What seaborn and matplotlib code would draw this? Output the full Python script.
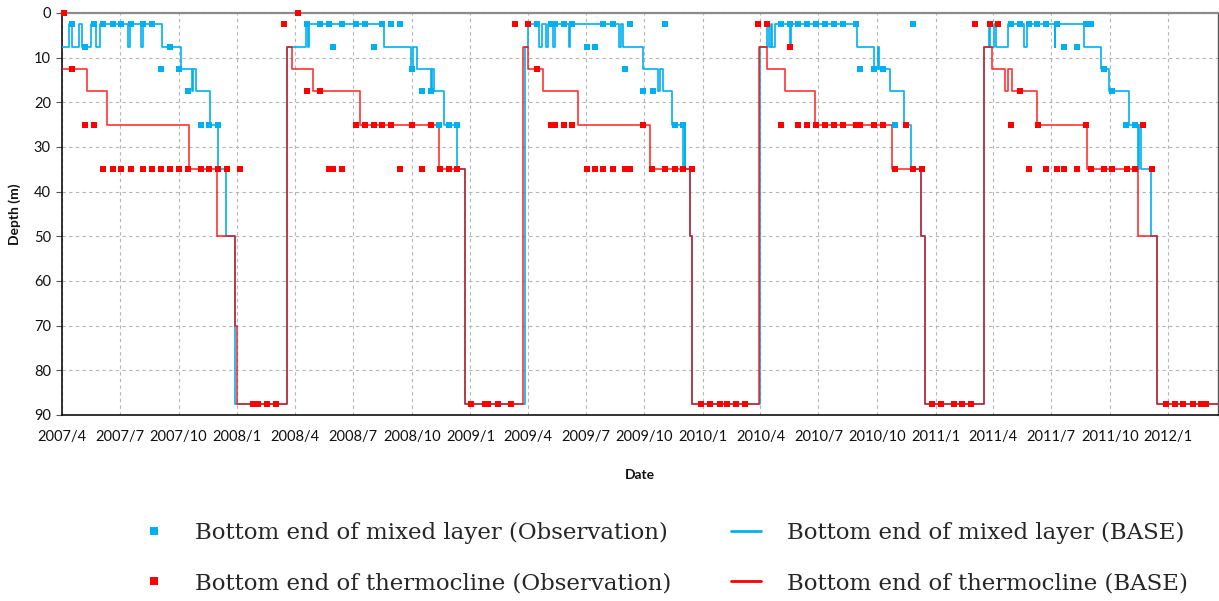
import numpy as np
import pandas as pd
import matplotlib
matplotlib.use("Agg")
import matplotlib.pyplot as plt
import matplotlib.dates as mdates
from matplotlib.ticker import FuncFormatter
from matplotlib.lines import Line2D
import seaborn as sns

START = pd.Timestamp("2007-04-01")
X_END_DAY = 1814

# ---- Observations: bottom end of thermocline (days since 2007-04-01, depth m)
thermo_obs_day = [3, 370,
                  349, 711, 731, 1092, 1106, 1433, 1456, 1469,
                  1143,
                  15, 746,
                  384, 405, 1503,
                  36, 50, 461, 476, 489, 502, 516, 550, 579, 768, 773, 787, 800, 912,
                  1128, 1155, 1169, 1183, 1197, 1211, 1226, 1246, 1250, 1253, 1274, 1288,
                  1324, 1489, 1531, 1607, 1696,
                  65, 80, 92, 108, 127, 141, 155, 170, 183, 197, 218, 231, 245, 259, 279,
                  419, 426, 439, 531, 565, 593, 607, 620, 824, 836, 849, 864, 884, 892,
                  926, 947, 962, 975, 989, 1307, 1336, 1350, 1517, 1544, 1561, 1573, 1593,
                  1615, 1635, 1648, 1671, 1684, 1711,
                  300, 307, 321, 336, 642, 663, 669, 684, 704, 1003, 1017, 1032, 1044, 1058,
                  1072, 1365, 1379, 1399, 1413, 1427, 1733, 1746, 1759, 1774, 1788, 1791, 1795]
thermo_obs_depth = ([0.0] * 2 + [2.5] * 8 + [7.5] * 1 + [12.5] * 2 + [17.5] * 3
                    + [25.0] * 31 + [35.0] * 48 + [87.5] * 27)

# ---- Observations: bottom end of mixed layer
mixed_obs_day = [15, 50, 65, 80, 92, 108, 127, 141, 385, 405, 419, 439, 461, 476, 502, 516,
                 531, 746, 768, 774, 787, 800, 849, 864, 892, 947, 1128, 1143, 1155, 1169,
                 1183, 1197, 1211, 1226, 1246, 1336, 1489, 1503, 1517, 1530, 1544, 1561,
                 1607, 1615,
                 36, 170, 426, 489, 824, 836, 1573, 1593,
                 155, 183, 550, 884, 1253, 1274, 1288, 1635,
                 197, 565, 579, 912, 927, 1648,
                 218, 231, 245, 592, 607, 620, 962, 975, 1307, 1670, 1684,
                 259]
mixed_obs_depth = ([2.5] * 44 + [7.5] * 8 + [12.5] * 8 + [17.5] * 6 + [25.0] * 11 + [35.0] * 1)

# ---- BASE simulation: bottom end of mixed layer (step changes)
mixed_base_day = [0, 11, 15, 27, 31, 46, 54, 59, 103, 106, 124, 127, 157, 187, 204, 206, 211,
                  232, 245, 258, 272, 353, 383, 386, 388, 506, 548, 551, 557, 579, 581, 584,
                  600, 620, 633, 726, 732, 749, 754, 760, 762, 771, 773, 796, 797, 874, 877,
                  880, 912, 936, 939, 943, 957, 974, 977, 978, 985, 988, 1096, 1107, 1109,
                  1112, 1114, 1119, 1143, 1144, 1248, 1274, 1280, 1282, 1299, 1322, 1333,
                  1348, 1354, 1447, 1454, 1456, 1463, 1465, 1484, 1509, 1514, 1558, 1559,
                  1603, 1631, 1643, 1675, 1688, 1690, 1693, 1709, 1718, 1814]
mixed_base_depth = [7.5, 2.5, 7.5, 2.5, 7.5, 2.5, 7.5, 2.5, 7.5, 2.5, 7.5, 2.5, 7.5, 12.5,
                    17.5, 12.5, 17.5, 25, 35, 50, 87.5, 7.5, 2.5, 7.5, 2.5, 7.5, 12.5, 7.5,
                    12.5, 17.5, 12.5, 17.5, 25, 35, 87.5, 7.5, 2.5, 7.5, 2.5, 7.5, 2.5, 7.5,
                    2.5, 7.5, 2.5, 7.5, 2.5, 7.5, 12.5, 17.5, 12.5, 17.5, 25, 35, 25, 35, 50,
                    87.5, 7.5, 2.5, 7.5, 2.5, 7.5, 2.5, 7.5, 2.5, 7.5, 12.5, 7.5, 12.5, 17.5,
                    25, 35, 50, 87.5, 7.5, 2.5, 7.5, 2.5, 7.5, 2.5, 7.5, 2.5, 7.5, 2.5, 7.5,
                    12.5, 17.5, 25, 35, 25, 35, 50, 87.5, 87.5]

# ---- BASE simulation: bottom end of thermocline (step changes)
thermo_base_day = [0, 39, 70, 200, 244, 272, 274, 353, 361, 394, 467, 592, 633, 724, 732, 755,
                   809, 922, 985, 989, 1094, 1107, 1135, 1181, 1302, 1348, 1354, 1447, 1459,
                   1479, 1484, 1491, 1530, 1608, 1688, 1719, 1814]
thermo_base_depth = [12.5, 17.5, 25, 35, 50, 70, 87.5, 7.5, 12.5, 17.5, 25, 35, 87.5, 7.5,
                     12.5, 17.5, 25, 35, 50, 87.5, 7.5, 12.5, 17.5, 25, 35, 50, 87.5, 7.5,
                     12.5, 17.5, 12.5, 17.5, 25, 35, 50, 87.5, 87.5]

labels = ["Bottom end of mixed layer (Observation)",
          "Bottom end of thermocline (Observation)",
          "Bottom end of mixed layer (BASE)",
          "Bottom end of thermocline (BASE)"]

BLUE = "#00B0F0"
RED = "#FF0000"


def to_df(days, depths):
    return pd.DataFrame({"Date": START + pd.to_timedelta(np.asarray(days), unit="D"),
                         "Depth": np.asarray(depths, dtype=float)})


df_mb = to_df(mixed_base_day, mixed_base_depth)
df_tb = to_df(thermo_base_day, thermo_base_depth)
df_mo = to_df(mixed_obs_day, mixed_obs_depth)
df_to = to_df(thermo_obs_day, thermo_obs_depth)

sns.set_theme(style="white")
plt.rcParams["font.family"] = ["Lato", "DejaVu Sans"]

fig = plt.figure(figsize=(12.19, 6.01), dpi=100)
ax = fig.add_axes([62 / 1219, 1 - 415 / 601, (1218 - 62) / 1219, (415 - 13) / 601])

sns.lineplot(data=df_mb, x="Date", y="Depth", ax=ax, color=BLUE, lw=1.2,
             estimator=None, sort=False, drawstyle="steps-post", zorder=3)
sns.lineplot(data=df_tb, x="Date", y="Depth", ax=ax, color=RED, lw=1.2, alpha=0.8,
             estimator=None, sort=False, drawstyle="steps-post", zorder=4)
sns.scatterplot(data=df_mo, x="Date", y="Depth", ax=ax, color=BLUE, marker="s", s=13,
                linewidth=0, zorder=5, clip_on=False)
sns.scatterplot(data=df_to, x="Date", y="Depth", ax=ax, color=RED, marker="s", s=13,
                linewidth=0, zorder=6, clip_on=False)

ax.set_xlim(START, START + pd.Timedelta(days=X_END_DAY))
ax.set_ylim(90, 0)
ax.set_yticks(np.arange(0, 91, 10))
ax.xaxis.set_major_locator(mdates.MonthLocator(bymonth=[1, 4, 7, 10]))
ax.xaxis.set_major_formatter(FuncFormatter(
    lambda v, p: f"{mdates.num2date(v).year}/{mdates.num2date(v).month}"))

ax.grid(True, linestyle=(0, (3, 3)), color="#B5B5B5", linewidth=0.8)
ax.tick_params(axis="y", which="major", left=True, length=4, width=0.8, color="#555555",
               labelsize=10.5, pad=4, labelcolor="#111111")
ax.tick_params(axis="x", which="major", bottom=False, length=0, labelsize=10.5, pad=11,
               labelcolor="#111111")

for side in ["left", "bottom"]:
    ax.spines[side].set_color("#111111")
    ax.spines[side].set_linewidth(1.2)
ax.spines["top"].set_color("#8C8C8C")
ax.spines["top"].set_linewidth(1.6)
ax.spines["right"].set_color("#555555")
ax.spines["right"].set_linewidth(1.0)

ax.set_xlabel("Date", fontsize=10, fontweight="bold", labelpad=18, color="#111111")
ax.set_ylabel("Depth (m)", fontsize=10, fontweight="bold", labelpad=9, color="#111111")

handles = [
    Line2D([], [], linestyle="none", marker="s", markersize=5.5, color=BLUE, markeredgewidth=0),
    Line2D([], [], linestyle="none", marker="s", markersize=5.5, color=RED, markeredgewidth=0),
    Line2D([], [], color=BLUE, lw=2),
    Line2D([], [], color=RED, lw=2),
]
fig.legend(handles, labels, ncol=2, loc="center", bbox_to_anchor=(0.5443, 0.0715),
           frameon=False, prop={"family": ["DejaVu Serif"], "size": 16.5},
           handlelength=1.31, handletextpad=1.14, columnspacing=2.62, labelspacing=1.26)

fig.savefig("out.png", dpi=100)
